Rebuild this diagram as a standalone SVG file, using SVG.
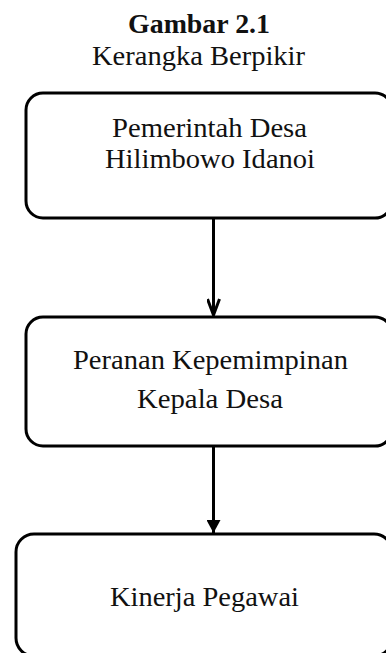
<svg xmlns="http://www.w3.org/2000/svg" width="386" height="653" viewBox="0 0 386 653">
<style>
text{font-family:"Liberation Serif","Times New Roman",serif;font-size:28px;fill:#111;text-anchor:middle}
.b{font-weight:bold}
.box{fill:#fff;stroke:#000;stroke-width:3}
.con{stroke:#000;stroke-width:3;fill:none}
</style>
<defs>
<marker id="open" markerUnits="userSpaceOnUse" viewBox="0 0 20 14" refX="18" refY="7" markerWidth="20" markerHeight="14" orient="auto">
<path d="M2,1 L18,7 L2,13" fill="none" stroke="#000" stroke-width="3"/>
</marker>
<marker id="fill" markerUnits="userSpaceOnUse" viewBox="0 0 14 14" refX="13" refY="7" markerWidth="14" markerHeight="14" orient="auto">
<path d="M0,0 L13,7 L0,14 Z" fill="#000"/>
</marker>
</defs>
<rect width="386" height="653" fill="#fff"/>
<g id="title">
<text class="b" x="199" y="33" textLength="142" lengthAdjust="spacingAndGlyphs">Gambar 2.1</text>
<text x="198.5" y="65" textLength="213" lengthAdjust="spacingAndGlyphs">Kerangka Berpikir</text>
</g>
<g id="connectors">
<line class="con" x1="213.5" y1="218" x2="213.5" y2="315" marker-end="url(#open)"/>
<line class="con" x1="213.5" y1="446" x2="213.5" y2="533" marker-end="url(#fill)"/>
</g>
<g id="node1">
<rect class="box" x="26" y="93" width="366" height="125" rx="17"/>
<text x="209.5" y="137" textLength="195" lengthAdjust="spacingAndGlyphs">Pemerintah Desa</text>
<text x="210" y="168" textLength="210" lengthAdjust="spacingAndGlyphs">Hilimbowo Idanoi</text>
</g>
<g id="node2">
<rect class="box" x="26" y="317" width="366" height="129" rx="17"/>
<text x="210.5" y="369" textLength="275" lengthAdjust="spacingAndGlyphs">Peranan Kepemimpinan</text>
<text x="210" y="408" textLength="146" lengthAdjust="spacingAndGlyphs">Kepala Desa</text>
</g>
<g id="node3">
<rect class="box" x="16" y="534" width="376" height="122" rx="18"/>
<text x="204.5" y="606" textLength="189" lengthAdjust="spacingAndGlyphs">Kinerja Pegawai</text>
</g>
</svg>
